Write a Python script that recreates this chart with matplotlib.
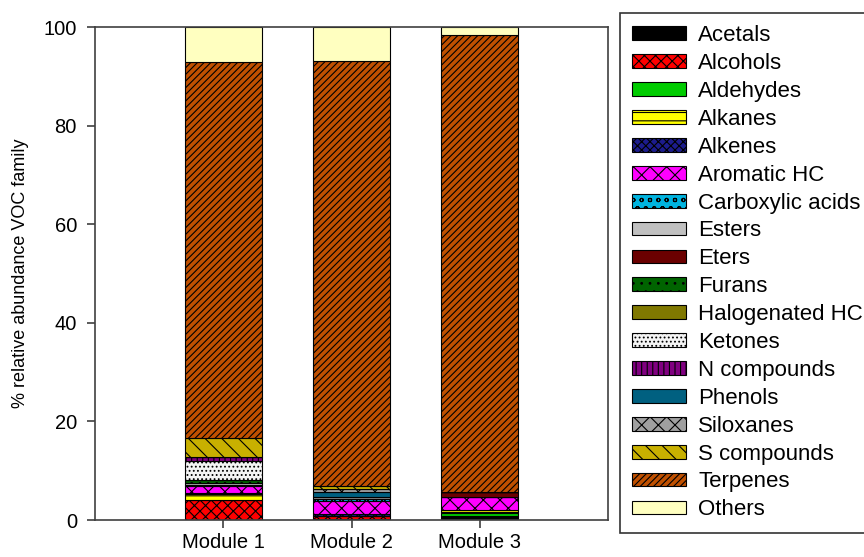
import numpy as np
import matplotlib
matplotlib.use("Agg")
import matplotlib.pyplot as plt

plt.rcParams['font.family'] = ['Liberation Sans', 'DejaVu Sans']
plt.rcParams['hatch.linewidth'] = 0.8

modules = ['Module 1', 'Module 2', 'Module 3']

families = ['Acetals', 'Alcohols', 'Aldehydes', 'Alkanes', 'Alkenes', 'Aromatic HC',
            'Carboxylic acids', 'Esters', 'Eters', 'Furans', 'Halogenated HC', 'Ketones',
            'N compounds', 'Phenols', 'Siloxanes', 'S compounds', 'Terpenes', 'Others']

acetals = [0.1, 0.3, 0.9]
alcohols = [4.0, 0.6, 0.0]
aldehydes = [0.0, 0.0, 0.55]
alkanes = [1.2, 0.0, 0.6]
alkenes = [0.2, 0.4, 0.0]
aromatic = [1.4, 2.6, 2.6]
carboxylic = [0.2, 0.3, 0.0]
esters = [0.4, 0.4, 0.0]
eters = [0.0, 0.0, 1.0]
furans = [0.6, 0.0, 0.0]
halogenated = [0.1, 0.0, 0.0]
ketones = [3.8, 0.0, 0.0]
n_comp = [0.8, 0.0, 0.0]
phenols = [0.0, 1.0, 0.0]
siloxanes = [0.0, 0.7, 0.0]
s_comp = [3.9, 0.5, 0.0]
terpenes = [76.3, 86.3, 92.7]
others = [7.0, 6.9, 1.65]

values = [acetals, alcohols, aldehydes, alkanes, alkenes, aromatic, carboxylic, esters,
          eters, furans, halogenated, ketones, n_comp, phenols, siloxanes, s_comp,
          terpenes, others]

colors = ['#000000', '#ff0000', '#00cc00', '#ffff00', '#1c1c8c', '#ff00ff',
          '#00b4e0', '#c0c0c0', '#6b0000', '#006400', '#807800', '#f4f4f4',
          '#800080', '#006080', '#a0a0a0', '#c8b000', '#c05000', '#ffffc0']
hatches = [None, 'xxx', None, '--', 'xxxx', 'xx', 'oo', None, None, '..', None, '....',
           '|||', None, 'xx', '\\\\', '/////', None]

fig = plt.figure(figsize=(8.64, 5.57), dpi=100)
ax = fig.add_axes([0.110, 0.0664, 0.5937, 0.8851])

x = np.arange(1, len(modules) + 1)
bottom = np.zeros(len(modules))
for name, vals, c, h in zip(families, values, colors, hatches):
    vals = np.array(vals)
    ax.bar(x, vals, 0.6, bottom=bottom, color=c, hatch=h, edgecolor='black',
           linewidth=0.8, label=name)
    bottom += vals

ax.set_xlim(0, 4)
ax.set_ylim(0, 100)
ax.set_xticks(x)
ax.set_xticklabels(modules, fontsize=14.5)
ax.set_yticks(np.arange(0, 101, 20))
ax.tick_params(axis='y', labelsize=14.5, direction='out', length=6, width=1.2, pad=7,
               colors='#404040', labelcolor='black')
ax.tick_params(axis='x', direction='out', length=6, width=1.2, colors='#404040', labelcolor='black')
ax.set_ylabel('% relative abundance VOC family', fontsize=13)
ax.yaxis.set_label_coords(-0.129, 0.5)
for s in ax.spines.values():
    s.set_color('#404040')
    s.set_linewidth(1.2)

leg = fig.legend(loc='upper left', bbox_to_anchor=(0.7176, 0.9767), fontsize=16,
                 frameon=True, fancybox=False, edgecolor='black', handlelength=2.43,
                 handleheight=0.58, labelspacing=0.31, handletextpad=0.54,
                 borderpad=0.55, borderaxespad=0)
leg.get_frame().set_linewidth(1.2)

fig.savefig('out.png', dpi=100)
